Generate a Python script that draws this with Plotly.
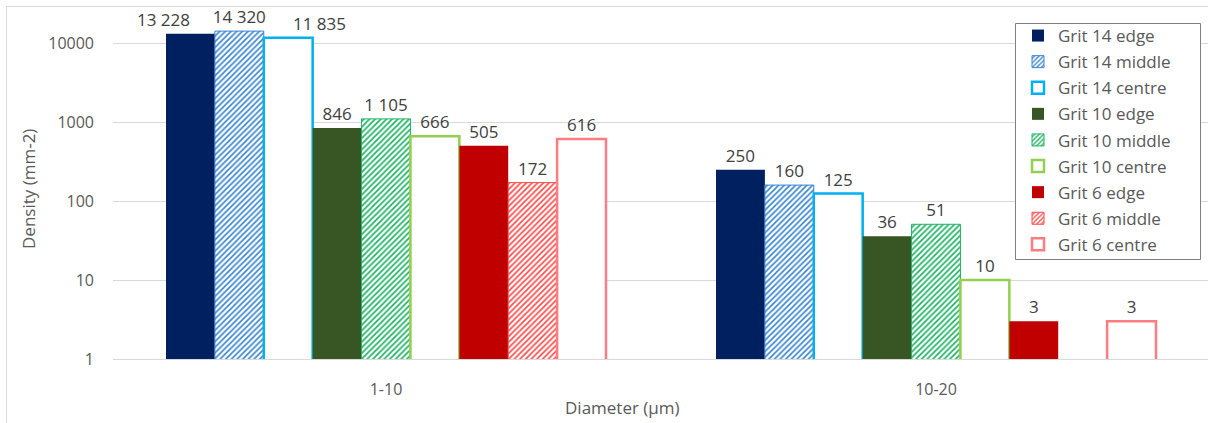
import math
import plotly.graph_objects as go

# Diameter classes and measured densities per sample position
categories = ["1-10", "10-20"]

series_names = [
    "Grit 14 edge", "Grit 14 middle", "Grit 14 centre",
    "Grit 10 edge", "Grit 10 middle", "Grit 10 centre",
    "Grit 6 edge", "Grit 6 middle", "Grit 6 centre",
]

grit14_edge = [13228, 250]
grit14_middle = [14320, 160]
grit14_centre = [11835, 125]
grit10_edge = [846, 36]
grit10_middle = [1105, 51]
grit10_centre = [666, 10]
grit6_edge = [505, 3]
grit6_middle = [172, None]
grit6_centre = [616, 3]

series_values = [
    grit14_edge, grit14_middle, grit14_centre,
    grit10_edge, grit10_middle, grit10_centre,
    grit6_edge, grit6_middle, grit6_centre,
]

y_tick_values = [1, 10, 100, 1000, 10000]
y_tick_labels = ["1", "10", "100", "1000", "10000"]

# style per series: (kind, colour)
styles = [
    ("solid", "#002060"), ("hatch", "#3A86D0"), ("outline", "#00B0F0"),
    ("solid", "#375623"), ("hatch", "#1DB463"), ("outline", "#92D050"),
    ("solid", "#C00000"), ("hatch", "#FF4A4A"), ("outline", "#FF7C80"),
]

# labels that sit beside their bar instead of straight above it (series index, category index, px shift)
shifted_labels = {(0, 0): -27, (2, 0): 31}

FONT = "Open Sans"
LABEL_COLOR = "#404040"
AXIS_TEXT = "#595959"
GRID = "#d9d9d9"
LABEL_SIZE = 17

BARGAP = 0.2
n_series = len(series_names)
slot = (1 - BARGAP) / n_series

fig = go.Figure()

annotations = []
for i, (name, vals, (kind, color)) in enumerate(zip(series_names, series_values, styles)):
    texts = []
    for j, v in enumerate(vals):
        if v is None:
            texts.append("")
        elif (i, j) in shifted_labels:
            texts.append("")
            annotations.append(dict(
                x=j - (1 - BARGAP) / 2 + (i + 0.5) * slot,
                y=math.log10(v),
                xref="x", yref="y",
                text=f"{v:,}".replace(",", " "),
                showarrow=False,
                xanchor="center", yanchor="bottom",
                xshift=shifted_labels[(i, j)], yshift=1,
                font=dict(family=FONT, size=LABEL_SIZE, color=LABEL_COLOR),
            ))
        else:
            texts.append(f"{v:,}".replace(",", " "))

    if kind == "solid":
        marker = dict(color=color, line=dict(width=0))
    elif kind == "hatch":
        marker = dict(
            color="white",
            line=dict(color=color, width=1),
            pattern=dict(shape="/", fgcolor=color, bgcolor="white",
                         size=4, solidity=0.42, fillmode="replace"),
        )
    else:
        marker = dict(color="white", line=dict(color=color, width=2.5))

    fig.add_trace(go.Bar(
        name=name,
        x=categories,
        y=vals,
        marker=marker,
        text=texts,
        textposition="outside",
        constraintext="none",
        cliponaxis=False,
        textfont=dict(family=FONT, size=LABEL_SIZE, color=LABEL_COLOR),
        legendgroup=name,
    ))

# plot-area geometry in pixels, used for placing titles, legend box and the frame
W, H = 1208, 423
L, R, T, B = 113, 0, 8, 64
pw, ph = W - L - R, H - T - B


def px(x):
    return (x - L) / pw


def py(y):
    return (H - B - y) / ph


annotations += [
    dict(text="Density (mm-2)", x=px(28), y=py(189), xref="paper", yref="paper",
         textangle=-90, showarrow=False, xanchor="center", yanchor="middle",
         font=dict(family=FONT, size=17, color=AXIS_TEXT)),
    dict(text="Diameter (µm)", x=px(622), y=py(407), xref="paper", yref="paper",
         showarrow=False, xanchor="center", yanchor="middle",
         font=dict(family=FONT, size=17, color=AXIS_TEXT)),
]

shapes = [
    # outer chart frame
    dict(type="line", xref="paper", yref="paper", x0=px(6.5), x1=px(6.5), y0=py(H), y1=py(6.5),
         line=dict(color=GRID, width=1)),
    dict(type="line", xref="paper", yref="paper", x0=px(6.5), x1=px(W), y0=py(6.5), y1=py(6.5),
         line=dict(color=GRID, width=1)),
    # legend box
    dict(type="rect", xref="paper", yref="paper", layer="above",
         x0=px(1015.5), x1=px(1200.5), y0=py(259.5), y1=py(23.5),
         fillcolor="white", line=dict(color="#7f7f7f", width=1)),
]

fig.update_layout(
    width=W, height=H,
    margin=dict(l=L, r=R, t=T, b=B, pad=0),
    paper_bgcolor="white", plot_bgcolor="white",
    barmode="group", bargap=BARGAP, bargroupgap=0,
    separators=". ",
    font=dict(family=FONT, size=16, color=AXIS_TEXT),
    showlegend=True,
    legend=dict(
        x=px(1018), y=py(18), xanchor="left", yanchor="top",
        bgcolor="rgba(0,0,0,0)", borderwidth=0,
        font=dict(family=FONT, size=17, color=AXIS_TEXT),
        traceorder="grouped", tracegroupgap=1,
    ),
    annotations=annotations,
    shapes=shapes,
)

x_unit = 550  # pixels per category
fig.update_xaxes(
    range=[-(386 - L) / x_unit, 1 + (W - 936) / x_unit],
    showline=True, linecolor=GRID, linewidth=1,
    showgrid=False, ticks="", ticklabelstandoff=16,
    tickfont=dict(family=FONT, size=16, color=AXIS_TEXT),
)
fig.update_yaxes(
    type="log",
    range=[0, (H - B - T) / 78.9],
    tickvals=y_tick_values, ticktext=y_tick_labels,
    showgrid=True, gridcolor=GRID, gridwidth=1,
    zeroline=False, showline=False, ticks="", ticklabelstandoff=18,
    tickfont=dict(family=FONT, size=16, color=AXIS_TEXT),
)

fig.write_html("out.html")
